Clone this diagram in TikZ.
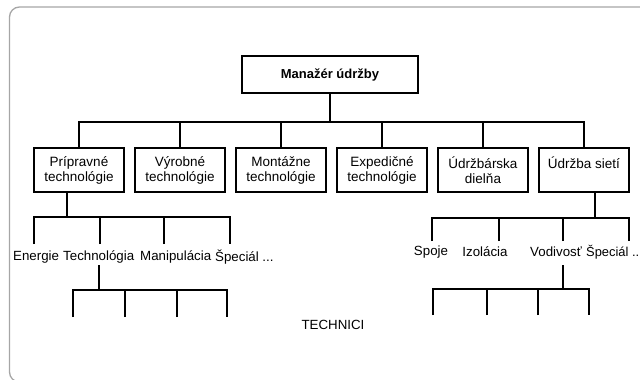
\documentclass[tikz,border=0pt]{standalone}
\usepackage{fontspec}
\setmainfont{Liberation Sans}
\begin{document}
\begin{tikzpicture}[x=1pt,y=-1pt,
  txt/.style={font=\fontsize{13.3}{15}\selectfont, inner sep=0pt},
  unitbox/.style={draw, line width=2pt, minimum width=90pt, minimum height=44pt, align=center, inner sep=0pt, font=\fontsize{13.5}{15}\selectfont},
  topbox/.style={draw, line width=2pt, minimum width=176pt, minimum height=37pt, inner sep=0pt, font=\fontsize{13}{15}\selectfont\bfseries},
  conn/.style={line width=2pt},
  frame/.style={draw=black!35, line width=1.3pt, rounded corners=10pt}]
\useasboundingbox (0,0) rectangle (640,380);
\draw[frame] (9.5,7) rectangle (670,382);

% top
\node[topbox] (mgr) at (330,74.5) {Manažér údržby};

% departments
\node[unitbox] (b1) at (79,170) {Prípravné\\technológie};
\node[unitbox] (b2) at (180,170) {Výrobné\\technológie};
\node[unitbox] (b3) at (281,170) {Montážne\\technológie};
\node[unitbox] (b4) at (382,170) {Expedičné\\technológie};
\node[unitbox] (b5) at (483,170) {Údržbárska\\dielňa};
\node[unitbox] (b6) at (584,170) {Údržba sietí\\\mbox{}};

\coordinate (bar) at (0,121.5);
\draw[conn] (mgr.south) -- (mgr.south |- bar);
\draw[conn] (b1.north) |- (b6.north |- bar) -- (b6.north);
\foreach \b in {b2,b3,b4,b5} \draw[conn] (\b.north) -- (\b.north |- bar);

% left sub-level
\coordinate (l0) at (67,192);
\coordinate (lbar) at (0,217);
\coordinate (la) at (34,244);
\coordinate (lb) at (100,244);
\coordinate (lc) at (164,244);
\coordinate (ld) at (230,244);
\draw[conn] (l0) -- (l0 |- lbar);
\draw[conn] (la) |- (ld |- lbar) -- (ld);
\draw[conn] (lb) -- (lb |- lbar);
\draw[conn] (lc) -- (lc |- lbar);

\node[txt, anchor=west] (energie) at (13,257) {Energie};
\node[txt, anchor=west] (techn) at (63,257) {Technológia};
\node[txt, anchor=west] (manip) at (140,257) {Manipulácia};
\node[txt, anchor=west] (spec1) at (215,257) {Špeciál ...};

% left technicians
\coordinate (t0) at (99,265);
\coordinate (tbar) at (0,290);
\coordinate (ta) at (73,317);
\coordinate (tb) at (125,317);
\coordinate (tc) at (177,317);
\coordinate (td) at (227,317);
\draw[conn] (t0) -- (t0 |- tbar);
\draw[conn] (ta) |- (td |- tbar) -- (td);
\draw[conn] (tb) -- (tb |- tbar);
\draw[conn] (tc) -- (tc |- tbar);

\node[txt] (technici) at (333,325) {TECHNICI};

% right sub-level
\coordinate (r0) at (595,192);
\coordinate (rbar) at (0,218);
\coordinate (ra) at (432,241);
\coordinate (rb) at (499,241);
\coordinate (rc) at (563,241);
\coordinate (rd) at (629,241);
\draw[conn] (r0) -- (r0 |- rbar);
\draw[conn] (ra) |- (rd |- rbar) -- (rd);
\draw[conn] (rb) -- (rb |- rbar);
\draw[conn] (rc) -- (rc |- rbar);

\node[txt] (spoje) at (431,252) {Spoje};
\node[txt] (izol) at (485,252) {Izolácia};
\node[txt] (vodiv) at (556,252) {Vodivosť};
\node[txt, anchor=west, font=\fontsize{12.9}{15}\selectfont] (spec2) at (586,252) {Špeciál ..};

% right technicians
\coordinate (s0) at (563,265);
\coordinate (sbar) at (0,289);
\coordinate (sa) at (433,315);
\coordinate (sb) at (487,315);
\coordinate (sc) at (538,315);
\coordinate (sd) at (589,315);
\draw[conn] (s0) -- (s0 |- sbar);
\draw[conn] (sa) |- (sd |- sbar) -- (sd);
\draw[conn] (sb) -- (sb |- sbar);
\draw[conn] (sc) -- (sc |- sbar);
\end{tikzpicture}
\end{document}
